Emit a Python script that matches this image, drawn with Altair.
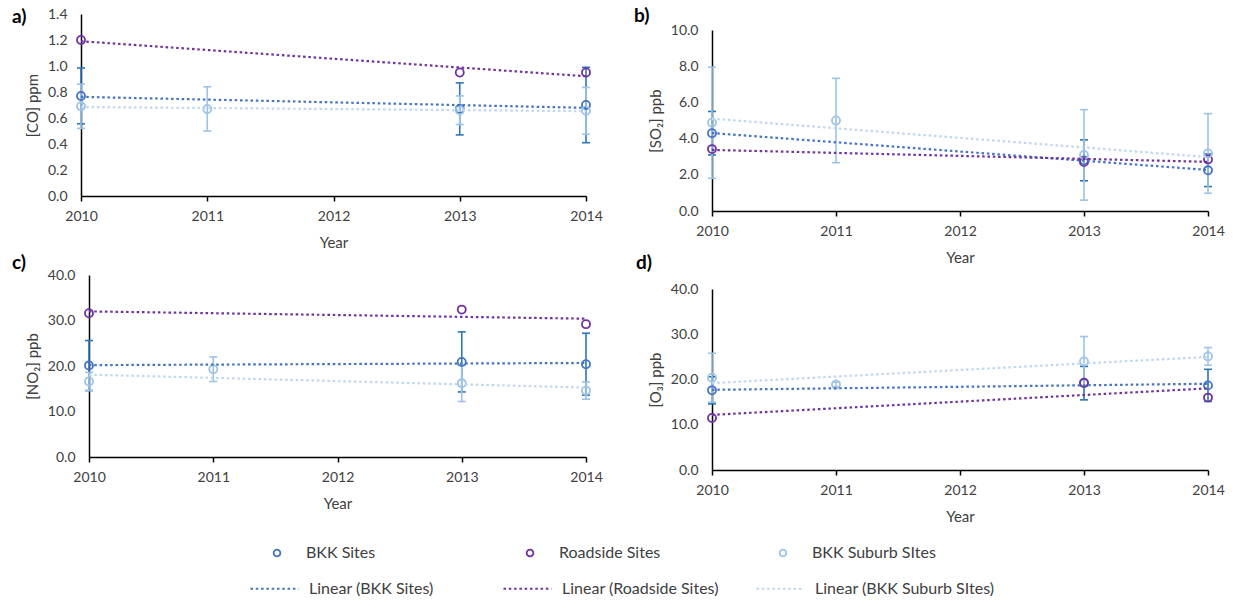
import altair as alt
import pandas as pd

# ---------------- data ----------------
SERIES = ["BKK Sites", "Roadside Sites", "BKK Suburb SItes"]
TREND_NAMES = ["Linear (BKK Sites)", "Linear (Roadside Sites)", "Linear (BKK Suburb SItes)"]
MARKER_COLORS = ["#4472C4", "#7030A0", "#9DC3E6"]
TREND_COLORS = ["#4472C4", "#7030A0", "#BDD7EE"]

bkk_years = [2010, 2013, 2014]
road_years = [2010, 2013, 2014]
sub_years = [2010, 2011, 2013, 2014]
x_tick_values = [2010, 2011, 2012, 2013, 2014]

co_bkk = [0.77, 0.67, 0.70]
co_bkk_err = [0.215, 0.20, 0.29]
co_road = [1.20, 0.95, 0.95]
co_sub = [0.69, 0.67, 0.66, 0.655]
co_sub_err = [0.17, 0.17, 0.11, 0.18]
co_ticks = [0.0, 0.2, 0.4, 0.6, 0.8, 1.0, 1.2, 1.4]

so2_bkk = [4.30, 2.80, 2.25]
so2_bkk_err = [1.20, 1.13, 0.90]
so2_road = [3.42, 2.70, 2.85]
so2_sub = [4.88, 5.00, 3.10, 3.18]
so2_sub_err = [3.07, 2.33, 2.50, 2.20]
so2_ticks = [0, 2, 4, 6, 8, 10]

no2_bkk = [20.1, 20.9, 20.4]
no2_bkk_err = [5.5, 6.6, 6.8]
no2_road = [31.6, 32.4, 29.2]
no2_sub = [16.6, 19.3, 16.2, 14.6]
no2_sub_err = [2.0, 2.7, 4.0, 1.9]
no2_ticks = [0, 10, 20, 30, 40]

o3_bkk = [17.6, 19.2, 18.7]
o3_bkk_err = [3.0, 3.7, 3.55]
o3_road = [11.5, 19.3, 16.0]
o3_sub = [20.4, 18.9, 24.0, 25.1]
o3_sub_err = [5.4, 0.5, 5.5, 1.95]
o3_ticks = [0, 10, 20, 30, 40]

FONT = "Lato"
TXT = "#404040"


def frame(bkk, bkk_err, road, sub, sub_err):
    rows = []
    for yr, v, e in zip(bkk_years, bkk, bkk_err):
        rows.append({"series": SERIES[0], "year": yr, "value": v, "err": e})
    for yr, v in zip(road_years, road):
        rows.append({"series": SERIES[1], "year": yr, "value": v, "err": 0.0})
    for yr, v, e in zip(sub_years, sub, sub_err):
        rows.append({"series": SERIES[2], "year": yr, "value": v, "err": e})
    return pd.DataFrame(rows)


leg_points = alt.Legend(
    title=None, orient="none", legendX=188, legendY=531, direction="horizontal",
    columns=3, symbolType="circle", symbolSize=45, symbolStrokeWidth=1.8,
    labelFont=FONT, labelFontSize=16, labelColor=TXT, labelOffset=21,
    columnPadding=92, gridAlign="all", padding=0, labelLimit=400,
)
leg_lines = alt.Legend(
    title=None, orient="none", legendX=168, legendY=549, direction="horizontal",
    columns=3, symbolType="stroke", symbolSize=2304, symbolStrokeWidth=2.2,
    symbolDash=[2.5, 2.8], labelFont=FONT, labelFontSize=16, labelColor=TXT,
    labelOffset=9, columnPadding=10, gridAlign="all", padding=0, labelLimit=400,
)


def panel(df, label, ytitle, ymax, yticks, w, h, lx, ly, xr=None, yr=None, yoff=0):
    x_axis = alt.Axis(values=x_tick_values, format="d", title="Year", grid=False,
                      ticks=True, tickSize=5, tickColor="black", tickWidth=1.5,
                      labelPadding=8, titlePadding=12, labelFlush=False)
    xs = dict(domain=[2010, 2014], nice=False, zero=False)
    if xr is not None:
        xs["range"] = xr
    xenc = alt.X("year:Q", scale=alt.Scale(**xs), axis=x_axis)

    ys = dict(domain=[0, ymax], nice=False, zero=True)
    if yr is not None:
        ys["range"] = yr

    def yenc(field):
        return alt.Y(field, type="quantitative", scale=alt.Scale(**ys),
                     axis=alt.Axis(values=yticks, format=".1f", title=ytitle, grid=False,
                                   ticks=False, tickSize=0, labelPadding=14,
                                   titlePadding=7, offset=yoff))

    base = alt.Chart(df)
    layers = []
    for s, col in [(SERIES[0], "#2E75B6"), (SERIES[2], "#9DC3E6")]:
        e = base.transform_filter(alt.datum.series == s).transform_calculate(
            lo="datum.value - datum.err", hi="datum.value + datum.err")
        layers.append(e.mark_rule(color=col, strokeWidth=1.6).encode(
            x=xenc, y=yenc("lo"), y2="hi:Q"))
        layers.append(e.mark_tick(color=col, orient="horizontal", size=8, thickness=1.6,
                                  opacity=1).encode(x=xenc, y=yenc("lo")))
        layers.append(e.mark_tick(color=col, orient="horizontal", size=8, thickness=1.6,
                                  opacity=1).encode(x=xenc, y=yenc("hi")))

    pts = base.mark_point(filled=False, size=65, strokeWidth=1.8, opacity=1).encode(
        x=xenc, y=yenc("value"),
        stroke=alt.Stroke("series:N", scale=alt.Scale(domain=SERIES, range=MARKER_COLORS),
                          legend=leg_points),
    )
    trend = base.transform_regression(
        on="year", regression="value", groupby=["series"], extent=[2010, 2014]
    ).transform_calculate(
        trend='"Linear (" + datum.series + ")"'
    ).mark_line(strokeDash=[2.5, 2.8], strokeWidth=2.2).encode(
        x=xenc, y=yenc("value"),
        color=alt.Color("trend:N", scale=alt.Scale(domain=TREND_NAMES, range=TREND_COLORS),
                        legend=leg_lines),
    )
    txt = alt.Chart(pd.DataFrame({"label": [label]})).mark_text(
        font=FONT, fontSize=19, fontWeight="bold", align="left", baseline="middle",
        color="black"
    ).encode(text="label:N", x=alt.value(lx), y=alt.value(ly))

    return alt.layer(*layers, pts, trend, txt).properties(width=w, height=h)


pa = panel(frame(co_bkk, co_bkk_err, co_road, co_sub, co_sub_err),
           "a)", "[CO] ppm", 1.4, co_ticks, 505, 182, -69, 3)
pb = panel(frame(so2_bkk, so2_bkk_err, so2_road, so2_sub, so2_sub_err),
           "b)", "[SO₂] ppb", 10, so2_ticks, 496, 197, -78, 2, yr=[197, 16])
pc = panel(frame(no2_bkk, no2_bkk_err, no2_road, no2_sub, no2_sub_err),
           "c)", "[NO₂] ppb", 40, no2_ticks, 505, 182, -69, -12, xr=[8, 505], yoff=-8)
pd_ = panel(frame(o3_bkk, o3_bkk_err, o3_road, o3_sub, o3_sub_err),
            "d)", "[O₃] ppb", 40, o3_ticks, 496, 181, -76, -26)

left = alt.vconcat(pa, pc, spacing=4)
right = alt.vconcat(pb, pd_, spacing=-11)

chart = alt.hconcat(left, right, spacing=31).properties(
    padding={"left": 12, "top": 7, "right": 0, "bottom": 0},
    background="white",
).configure_view(stroke=None).configure_axis(
    domainColor="black", domainWidth=1.5,
    labelFont=FONT, labelFontSize=14, labelColor=TXT,
    titleFont=FONT, titleFontSize=15, titleFontWeight="normal", titleColor=TXT,
)

chart.save("out.html", embed_options={"renderer": "svg", "actions": False})
